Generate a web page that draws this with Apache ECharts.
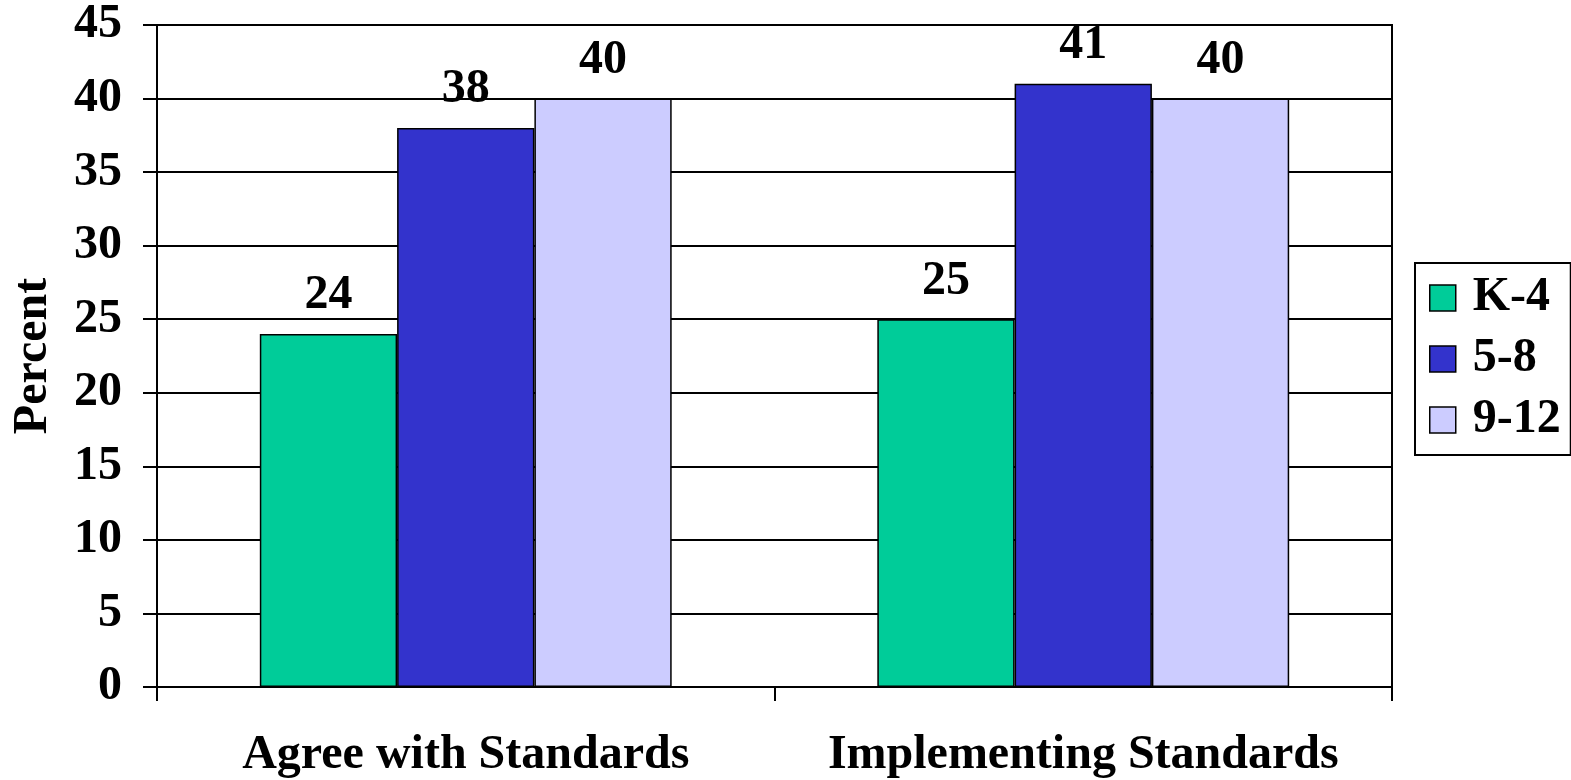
<!DOCTYPE html>
<html>
<head>
<meta charset="utf-8">
<script src="https://cdn.jsdelivr.net/npm/echarts@6/dist/echarts.min.js"></script>
<style>
  html, body { margin: 0; padding: 0; background: #fff; }
  #chart { width: 1571px; height: 780px; }
</style>
</head>
<body>
<div id="chart"></div>
<script>
// Survey results by grade band
const categories = ['Agree with Standards', 'Implementing Standards'];
const seriesNames = ['K-4', '5-8', '9-12'];
const k4 = [24, 25];
const g58 = [38, 41];
const g912 = [40, 40];
const colors = ['#00CC99', '#3333CC', '#CCCCFF'];

const FONT = '"Liberation Serif", "Times New Roman", serif';
const values = [k4, g58, g912];

const chart = echarts.init(document.getElementById('chart'), null, { renderer: 'canvas' });

chart.setOption({
  animation: false,
  backgroundColor: '#fff',
  grid: {
    left: 157, right: 179, top: 25, bottom: 93,
    containLabel: false,
    outerBoundsMode: 'none',
    show: true, borderColor: '#000', borderWidth: 2, backgroundColor: 'transparent'
  },
  legend: {
    orient: 'vertical',
    left: 1415, top: 263,
    width: 152,
    padding: [11, 10, 11, 14],
    itemGap: 13,
    itemWidth: 26, itemHeight: 26,
    borderColor: '#000', borderWidth: 2,
    icon: 'rect',
    data: seriesNames,
    textStyle: { fontFamily: FONT, fontWeight: 'bold', fontSize: 48, color: '#000', padding: [0, 0, 0, 12] },
    itemStyle: { borderColor: '#000', borderWidth: 1.5 }
  },
  xAxis: {
    type: 'category',
    data: categories,
    axisLine: { lineStyle: { color: '#000', width: 2 } },
    axisTick: { show: true, length: 14, lineStyle: { color: '#000', width: 2 } },
    axisLabel: { interval: 0, fontFamily: FONT, fontWeight: 'bold', fontSize: 48, color: '#000', margin: 45 }
  },
  yAxis: {
    type: 'value',
    min: 0, max: 45, interval: 5,
    name: 'Percent',
    nameLocation: 'middle',
    nameGap: 99,
    nameRotate: 90,
    nameTextStyle: { fontFamily: FONT, fontWeight: 'bold', fontSize: 48, color: '#000' },
    axisLine: { show: true, lineStyle: { color: '#000', width: 2 } },
    axisTick: { show: true, length: 14, lineStyle: { color: '#000', width: 2 } },
    splitLine: { show: true, lineStyle: { color: '#000', width: 2 } },
    axisLabel: { fontFamily: FONT, fontWeight: 'bold', fontSize: 48, color: '#000', margin: 35 }
  },
  series: seriesNames.map((name, i) => ({
    name: name,
    type: 'bar',
    data: values[i],
    barGap: '0%',
    barCategoryGap: '33.3%',
    itemStyle: { color: colors[i], borderColor: '#000', borderWidth: 1.5 },
    label: {
      show: true,
      position: 'top',
      distance: 14,
      fontFamily: FONT, fontWeight: 'bold', fontSize: 48, color: '#000'
    }
  }))
});
</script>
</body>
</html>
